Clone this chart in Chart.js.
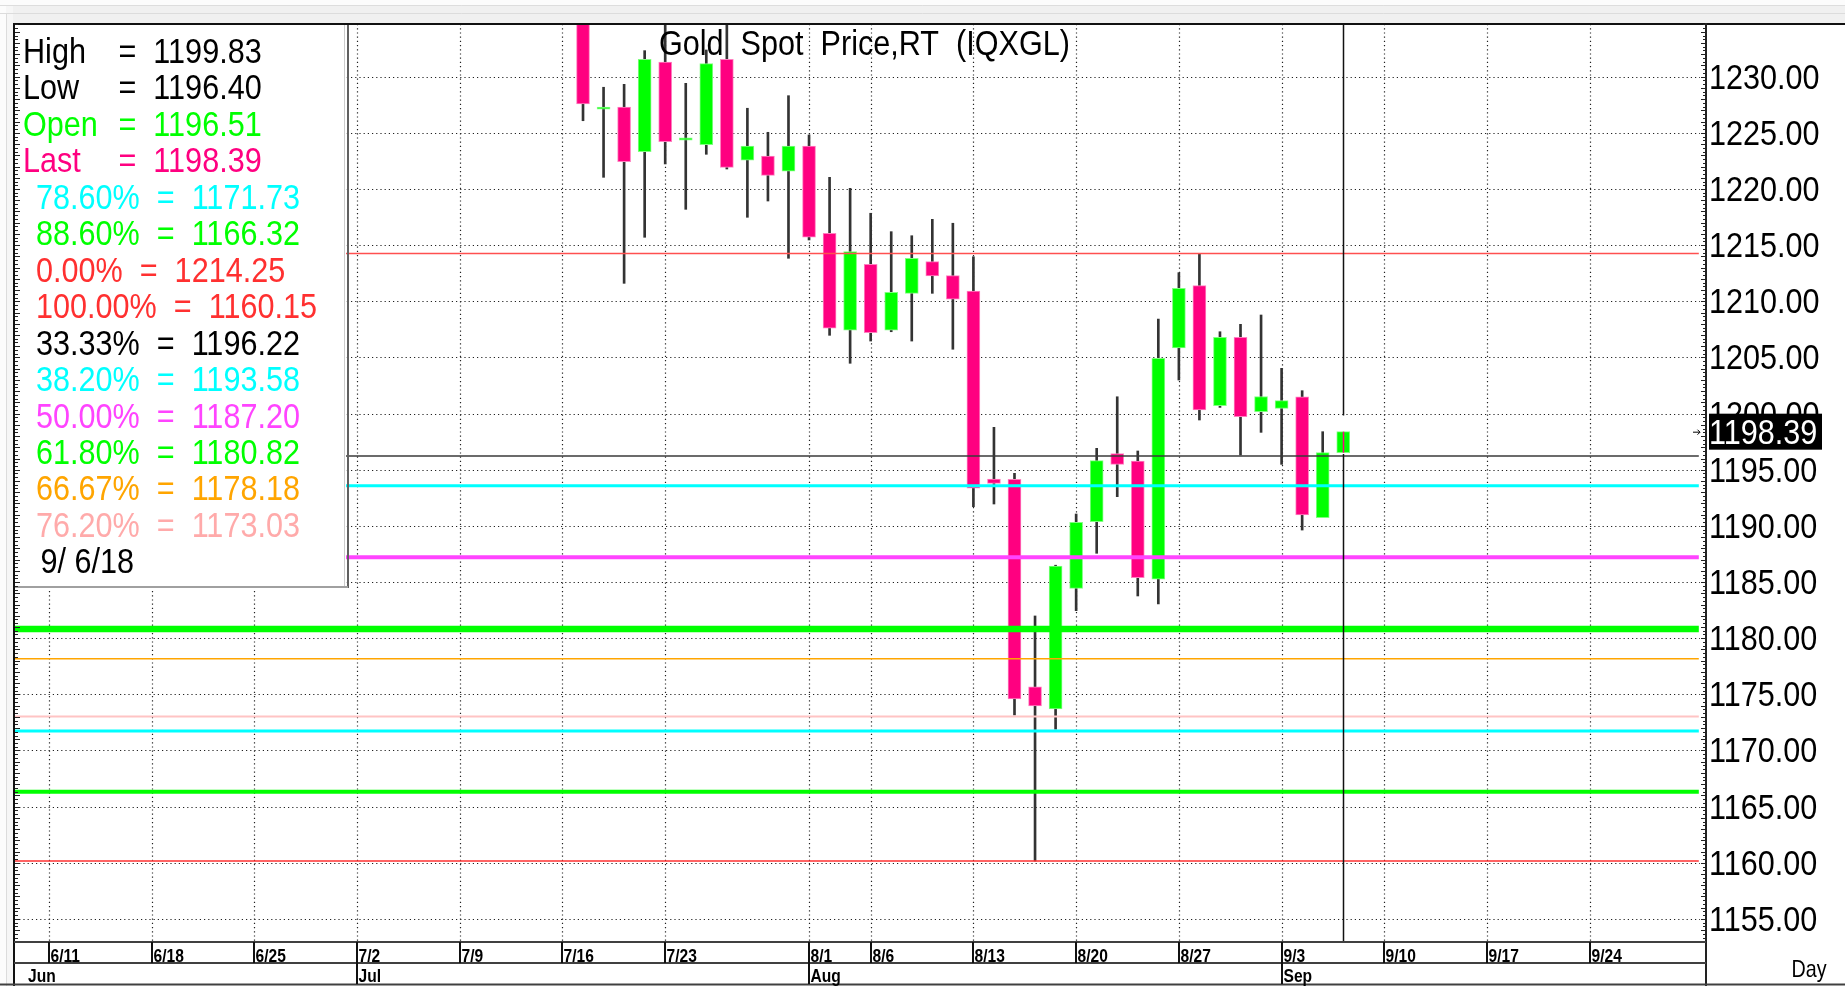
<!DOCTYPE html>
<html>
<head>
<meta charset="utf-8">
<script src="https://cdn.jsdelivr.net/npm/chart.js@4.4.1/dist/chart.umd.min.js"></script>
<style>
  html, body { margin: 0; padding: 0; background: #fff; overflow: hidden; }
  canvas { display: block; }
</style>
</head>
<body>
<canvas id="myChart" width="1845" height="986" style="width:1845px;height:986px"></canvas>
<script>
// daily candles, Gold Spot Price (IQXGL), 2018
var dates  = ['7/17','7/18','7/19','7/20','7/23','7/24','7/25','7/26','7/27','7/30','7/31','8/1','8/2','8/3','8/6','8/7','8/8','8/9','8/10','8/13','8/14','8/15','8/16','8/17','8/20','8/21','8/22','8/23','8/24','8/27','8/28','8/29','8/30','8/31','9/3','9/4','9/5','9/6'];
var opens  = [1240.80,1227.10,1227.30,1223.32,1231.31,1224.35,1223.94,1231.55,1222.56,1222.94,1221.58,1223.83,1216.06,1207.44,1213.29,1207.44,1210.71,1213.53,1212.28,1210.92,1194.18,1194.15,1175.68,1173.70,1184.44,1190.37,1196.43,1195.78,1185.25,1205.84,1211.39,1200.70,1206.79,1200.17,1200.47,1201.50,1190.73,1196.51];
var highs  = [1243.20,1229.06,1229.32,1232.32,1235.60,1229.41,1232.38,1235.20,1227.19,1225.05,1228.31,1224.81,1221.04,1220.06,1217.84,1216.20,1215.84,1217.30,1216.95,1213.97,1198.78,1194.68,1181.98,1186.50,1191.06,1196.91,1201.50,1196.67,1208.42,1212.55,1214.25,1207.29,1207.95,1208.78,1204.03,1202.04,1198.39,1199.83];
var lows   = [1226.08,1221.04,1211.60,1215.70,1222.23,1218.19,1223.09,1221.78,1217.48,1218.93,1213.83,1215.46,1206.97,1204.48,1206.46,1207.29,1206.46,1210.71,1205.73,1191.71,1191.95,1173.16,1160.15,1171.90,1182.45,1187.56,1192.60,1183.76,1183.05,1202.99,1199.43,1200.55,1196.31,1198.33,1195.48,1189.63,1190.73,1196.40];
var closes = [1227.57,1227.30,1222.43,1231.55,1224.21,1224.55,1231.16,1221.93,1223.83,1221.22,1223.83,1215.70,1207.60,1214.42,1207.20,1210.80,1213.83,1212.25,1210.20,1193.35,1193.79,1174.59,1173.96,1186.43,1190.32,1195.81,1195.48,1185.39,1204.92,1211.16,1200.32,1206.79,1199.72,1201.52,1201.15,1190.97,1196.52,1198.39];

var weekTicks   = ['6/11','6/18','6/25','7/2','7/9','7/16','7/23','8/1','8/6','8/13','8/20','8/27','9/3','9/10','9/17','9/24'];
var months      = ['Jun','Jul','Aug','Sep'];
var monthStarts = ['6/1','7/2','8/1','9/3'];
var yTicks      = [1155,1160,1165,1170,1175,1180,1185,1190,1195,1200,1205,1210,1215,1220,1225,1230];

var quoteLabels = ['High','Low','Open','Last'];
var quoteValues = [1199.83, 1196.40, 1196.51, 1198.39];
var fibLabels   = ['78.60%','88.60%','0.00%','100.00%','33.33%','38.20%','50.00%','61.80%','66.67%','76.20%'];
var fibValues   = [1171.73, 1166.32, 1214.25, 1160.15, 1196.22, 1193.58, 1187.20, 1180.82, 1178.18, 1173.03];
var asOf = '9/ 6/18';

// styles
var quoteColors   = ['#000000','#000000','#00ff00','#ff0080'];
var fibTextColors = ['#00ffff','#00ff00','#ff3030','#ff3030','#000000','#00ffff','#ff44ff','#00ff00','#ffa500','#ffaaaa'];
var fibLineColors = ['#00ffff','#00ff00','#ff5050','#ff3030','#3a3a3a','#00ffff','#ff44ff','#00ff00','#ffa500','#ffc4c4'];
var fibLineWidths = [3, 4, 1.5, 1.5, 1.5, 3, 4, 6.5, 1.5, 2];

var X_MIN = -1.645, X_MAX = 80.655;
var Y_MIN = 1152.947, Y_MAX = 1234.693;
var FONT = '"Liberation Sans", Arial, sans-serif';
var BIG = 30.6;

// trading-day position counted from Mon 6/11/2018
function dayIndex(md) {
  var p = md.split('/');
  var d = new Date(2018, +p[0] - 1, +p[1]);
  var t = new Date(2018, 5, 11);
  var n = 0, step = d >= t ? 1 : -1;
  while (t.getFullYear() !== d.getFullYear() || t.getMonth() !== d.getMonth() || t.getDate() !== d.getDate()) {
    t.setDate(t.getDate() + step);
    var wd = t.getDay();
    if (wd !== 0 && wd !== 6) n += step;
  }
  return n;
}

var candleX = dates.map(dayIndex);
var last = dates.length - 1;
var bodyFill = closes.map(function (c, i) { return c >= opens[i] ? '#00ff00' : '#ff0080'; });
var bodyEdge = closes.map(function (c, i) { return c >= opens[i] ? '#80ff80' : '#ff80c0'; });

var wicks = {
  type: 'bar',
  data: dates.map(function (d, i) { return { x: candleX[i], y: [lows[i], highs[i]] }; }),
  backgroundColor: function (c) { return c.dataIndex === last ? 'rgba(0,0,0,0)' : '#333333'; },
  barThickness: 2,
  grouped: false,
  order: 3
};
var bodies = {
  type: 'bar',
  data: dates.map(function (d, i) { return { x: candleX[i], y: [opens[i], closes[i]] }; }),
  backgroundColor: bodyFill,
  borderColor: bodyEdge,
  borderWidth: 1,
  borderSkipped: false,
  barThickness: 13,
  grouped: false,
  order: 2
};
var fibSets = fibValues.map(function (v, i) {
  return {
    type: 'line',
    data: [{ x: X_MIN, y: v }, { x: X_MAX - 0.35, y: v }],
    borderColor: fibLineColors[i],
    borderWidth: fibLineWidths[i],
    pointRadius: 0,
    order: 1
  };
});

function say(c, s, x, y, px, color, opt) {
  opt = opt || {};
  c.save();
  c.font = (opt.bold ? 'bold ' : '') + px + 'px ' + FONT;
  c.fillStyle = color;
  c.textAlign = 'left';
  c.textBaseline = 'alphabetic';
  c.translate(x, y);
  c.scale(opt.sx || 1, opt.sy || 1);
  c.fillText(s, 0, 0);
  c.restore();
}
function seg(c, x1, y1, x2, y2, w, color) {
  c.save();
  c.strokeStyle = color;
  c.lineWidth = w;
  c.beginPath();
  c.moveTo(x1, y1);
  c.lineTo(x2, y2);
  c.stroke();
  c.restore();
}

var chrome = {
  id: 'chrome',
  beforeDraw: function (chart) {
    var c = chart.ctx;
    c.save();
    c.fillStyle = '#ffffff';
    c.fillRect(0, 0, chart.width, chart.height);
    c.restore();
  },
  beforeDatasetsDraw: function (chart) {
    var c = chart.ctx, a = chart.chartArea, xs = chart.scales.x, ys = chart.scales.y;
    c.save();
    c.strokeStyle = '#222';
    c.lineWidth = 1.2;
    c.setLineDash([1.2, 3]);
    yTicks.forEach(function (v) {
      var y = Math.round(ys.getPixelForValue(v)) + 0.5;
      c.beginPath(); c.moveTo(a.left, y); c.lineTo(a.right - 6, y); c.stroke();
    });
    weekTicks.forEach(function (d) {
      var x = Math.round(xs.getPixelForValue(dayIndex(d))) + 0.5;
      c.beginPath(); c.moveTo(x, a.top); c.lineTo(x, a.bottom); c.stroke();
    });
    c.restore();
  },
  afterDraw: function (chart) {
    var c = chart.ctx, a = chart.chartArea, xs = chart.scales.x, ys = chart.scales.y;
    var W = chart.width, H = chart.height;

    // cursor line on the last bar, with its centre mark inside the body
    var cx = Math.round(xs.getPixelForValue(candleX[last])) + 0.5;
    seg(c, cx, a.top, cx, ys.getPixelForValue(highs[last]), 1.5, '#111');
    seg(c, cx, ys.getPixelForValue(lows[last]), cx, a.bottom, 1.5, '#111');
    seg(c, cx, ys.getPixelForValue(closes[last]), cx, ys.getPixelForValue(opens[last]), 1.5, '#ff0080');

    // title
    say(c, 'Gold  Spot  Price,RT  (IQXGL)', 659, 55, BIG, '#000', { sy: 1.12 });

    // info box
    c.save();
    c.fillStyle = '#ffffff';
    c.fillRect(a.left, a.top, 331, 562);
    c.restore();
    seg(c, 344.5, a.top, 344.5, 586, 1, '#cccccc');
    seg(c, 348, a.top, 348, 588, 2, '#606060');
    seg(c, a.left, 587, 348, 587, 2, '#a0a0a0');
    var lh = 36.45, base = 63;
    quoteLabels.forEach(function (l, i) {
      say(c, l, 23, base + i * lh, BIG, quoteColors[i], { sy: 1.12 });
      say(c, '=  ' + quoteValues[i].toFixed(2), 118.5, base + i * lh, BIG, quoteColors[i], { sy: 1.12 });
    });
    fibLabels.forEach(function (l, i) {
      say(c, l + '  =  ' + fibValues[i].toFixed(2), 36, base + (i + 4) * lh, BIG, fibTextColors[i], { sy: 1.12 });
    });
    say(c, asOf, 40.5, base + 14 * lh, BIG, '#000', { sy: 1.12 });

    // window frame
    c.save();
    c.fillStyle = '#f0f0f0';
    c.fillRect(0, 0, W, 23);
    c.fillStyle = '#f6f6f6';
    c.fillRect(0, 0, 13, H);
    c.fillStyle = '#fcfcfc';
    c.fillRect(0, 0, W, 5);
    c.fillRect(0, 0, 6, H);
    c.restore();
    seg(c, 0, 5.5, W, 5.5, 1, '#dddddd');
    seg(c, 0, 13.5, W, 13.5, 1, '#dcdcdc');
    seg(c, 6.5, 14, 6.5, H, 1, '#dcdcdc');
    seg(c, 13, 24, W, 24, 2, '#111');
    seg(c, 14, 23, 14, H, 2, '#111');
    seg(c, a.right, 23, a.right, H, 2, '#222');

    // axis hatch ticks
    for (var v = Math.ceil(Y_MIN * 3) / 3; v <= Y_MAX; v += 1 / 3) {
      var y = Math.round(ys.getPixelForValue(v)) + 0.5;
      var major = Math.abs(v - Math.round(v)) < 0.01;
      seg(c, a.right - (major ? 5 : 3), y, a.right, y, 1, '#222');
      seg(c, 15, y, 15 + (major ? 5 : 3), y, 1, '#222');
    }

    // price scale labels
    ys.ticks.forEach(function (t) {
      say(c, t.value.toFixed(2), 1709, ys.getPixelForValue(t.value) + 12, BIG, '#000', { sy: 1.12 });
    });

    // last price tag
    var py = ys.getPixelForValue(closes[last]);
    c.save();
    c.fillStyle = '#000';
    c.fillRect(1709, py - 18, 113, 36);
    c.restore();
    say(c, closes[last].toFixed(2), 1709, py + 12.6, BIG, '#fff', { sy: 1.12 });
    seg(c, 1693, py + 0.5, 1700, py + 0.5, 1, '#000');
    seg(c, 1697.5, py - 2, 1700, py + 0.5, 1, '#000');
    seg(c, 1697.5, py + 3, 1700, py + 0.5, 1, '#000');

    // date rows
    seg(c, 14, 942, a.right, 942, 2, '#404040');
    seg(c, 14, 963, a.right, 963, 2, '#404040');
    seg(c, 0, 984.5, W, 984.5, 2, '#404040');
    weekTicks.forEach(function (d) {
      var x = Math.round(xs.getPixelForValue(dayIndex(d)));
      seg(c, x, 942, x, 963, 2, '#111');
      say(c, d, x + 1.5, 962, 19, '#000', { bold: true, sx: 0.82 });
    });
    months.forEach(function (m, i) {
      var x = Math.round(xs.getPixelForValue(dayIndex(monthStarts[i])));
      if (x > a.left + 2) {
        seg(c, x, 963, x, 984, 2, '#111');
        say(c, m, x + 1.5, 982, 19, '#000', { bold: true, sx: 0.82 });
      } else {
        say(c, m, a.left + 13, 982, 19, '#000', { bold: true, sx: 0.82 });
      }
    });
    say(c, 'Day', 1791.5, 977, 24, '#000', { sx: 0.82 });
  }
};

var ctx = document.getElementById('myChart').getContext('2d');
var myChart = new Chart(ctx, {
  type: 'bar',
  data: { datasets: [wicks, bodies].concat(fibSets) },
  options: {
    responsive: false,
    animation: false,
    devicePixelRatio: 1,
    layout: { padding: { left: 15, top: 24, right: 0, bottom: 0 } },
    plugins: { legend: { display: false }, tooltip: { enabled: false } },
    scales: {
      x: {
        type: 'linear', min: X_MIN, max: X_MAX, offset: false,
        grid: { display: false }, border: { display: false }, ticks: { display: false },
        afterFit: function (s) { s.height = 44; }
      },
      y: {
        type: 'linear', position: 'right', min: Y_MIN, max: Y_MAX, beginAtZero: false,
        grid: { display: false }, border: { display: false }, ticks: { display: false },
        afterBuildTicks: function (s) { s.ticks = yTicks.map(function (v) { return { value: v }; }); },
        afterFit: function (s) { s.width = 139; }
      }
    }
  },
  plugins: [chrome]
});
</script>
</body>
</html>
